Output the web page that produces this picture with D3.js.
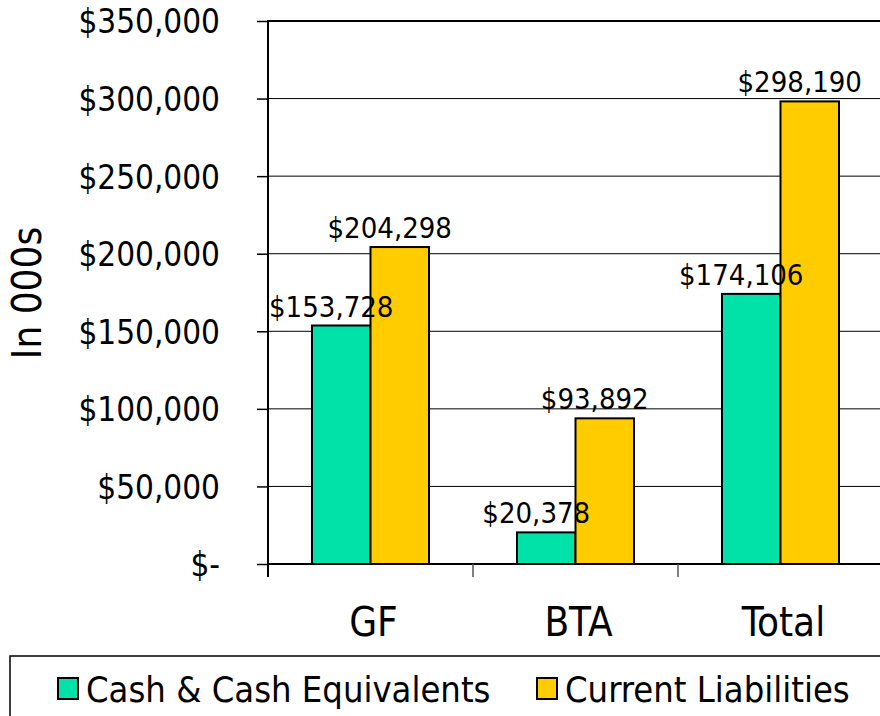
<!DOCTYPE html>
<html><head><meta charset="utf-8">
<script src="https://cdn.jsdelivr.net/npm/d3@7"></script>
<style>body{margin:0;background:#fff}svg{display:block}text{font-family:"DejaVu Sans Condensed","DejaVu Sans",sans-serif;fill:#000}</style>
</head><body><svg id="c" width="880" height="716"></svg>
<script>
const categories = ["GF", "BTA", "Total"];
const seriesNames = ["Cash & Cash Equivalents", "Current Liabilities"];
const cashValues = [153728, 20378, 174106];
const liabilityValues = [204298, 93892, 298190];
const yTicks = [0, 50000, 100000, 150000, 200000, 250000, 300000, 350000];
const colors = ["#00e2a8", "#ffcc00"];

const svg = d3.select("#c");
const x = d3.scaleBand().domain(categories).range([268, 883]);
const inner = d3.scaleBand().domain([0, 1]).range([44, x.bandwidth() - 44]);
const y = d3.scaleLinear().domain([0, 350000]).range([564, 21]);
const fmt = v => v === 0 ? "$-" : "$" + d3.format(",")(v);

// gridlines
svg.append("g").selectAll("line").data(yTicks.filter(d => d > 0)).join("line")
  .attr("x1", 268).attr("x2", 880).attr("y1", d => y(d)).attr("y2", d => y(d))
  .attr("stroke", "#000").attr("stroke-width", d => d === 350000 ? 2 : 1);

// y axis
const ya = svg.append("g").attr("transform", "translate(268,0)")
  .call(d3.axisLeft(y).tickValues(yTicks).tickFormat(fmt).tickSize(11).tickPadding(37));
ya.select(".domain").remove();
ya.selectAll(".tick line").attr("stroke", "#000").attr("stroke-width", 1.5);
ya.selectAll(".tick text").style("font-size", "33px").attr("dy", "0.36em");
svg.append("line").attr("x1", 268).attr("x2", 268).attr("y1", 20).attr("y2", 577).attr("stroke", "#000").attr("stroke-width", 2);

// bars
const data = categories.map((c, i) => [cashValues[i], liabilityValues[i]]);
const groups = svg.append("g").selectAll("g").data(data).join("g")
  .attr("transform", (d, i) => `translate(${x(categories[i])},0)`);
groups.selectAll("rect").data(d => d).join("rect")
  .attr("x", (d, j) => inner(j)).attr("width", inner.bandwidth())
  .attr("y", d => y(d)).attr("height", d => y(0) - y(d))
  .attr("fill", (d, j) => colors[j]).attr("stroke", "#000").attr("stroke-width", 2);
groups.selectAll("text").data(d => d).join("text")
  .attr("x", (d, j) => inner(j) + inner.bandwidth() / 2 - 10)
  .attr("y", d => y(d) - 9)
  .attr("text-anchor", "middle").style("font-size", "29px")
  .text(d => fmt(d));

// x axis
svg.append("line").attr("x1", 268).attr("x2", 880).attr("y1", 564).attr("y2", 564).attr("stroke", "#000").attr("stroke-width", 2);
svg.append("g").selectAll("text").data(categories).join("text")
  .attr("x", d => x(d) + x.bandwidth() / 2 + 3).attr("y", 636)
  .attr("text-anchor", "middle").style("font-size", "40px").text(d => d);
svg.append("g").selectAll("line").data(categories).join("line")
  .attr("x1", d => x(d) + x.bandwidth()).attr("x2", d => x(d) + x.bandwidth())
  .attr("y1", 564).attr("y2", 577).attr("stroke", "#555").attr("stroke-width", 1.5);

// y title
svg.append("text").attr("transform", "translate(41,293) rotate(-90)")
  .attr("text-anchor", "middle").style("font-size", "40px").text("In 000s");

// legend
svg.append("rect").attr("x", 10).attr("y", 656).attr("width", 880).attr("height", 80)
  .attr("fill", "#fff").attr("stroke", "#000").attr("stroke-width", 1.5);
const legX = [57, 536];
const lg = svg.append("g").selectAll("g").data(seriesNames).join("g")
  .attr("transform", (d, i) => `translate(${legX[i]},0)`);
lg.append("rect").attr("x", 1).attr("y", 678).attr("width", 20).attr("height", 21)
  .attr("fill", (d, i) => colors[i]).attr("stroke", "#000").attr("stroke-width", 2);
lg.append("text").attr("x", 29).attr("y", 702).style("font-size", "36px").text(d => d);
</script></body></html>
